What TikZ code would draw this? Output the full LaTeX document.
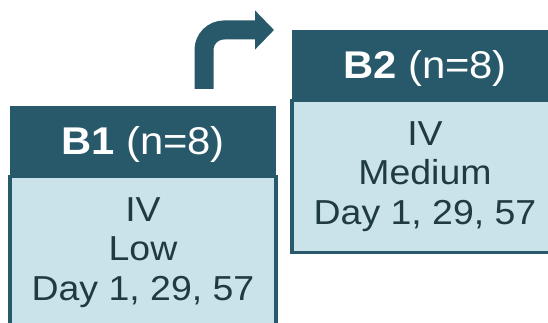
\documentclass[tikz,border=0pt]{standalone}
\usepackage{fontspec}
\setmainfont{Liberation Sans}[FakeStretch=1.08]
\usepackage{tikz}
\usetikzlibrary{arrows.meta,positioning}
\definecolor{tealdark}{HTML}{27596A}
\definecolor{tealpale}{HTML}{CAE3EA}
\definecolor{inkdark}{HTML}{1F3B42}

\begin{document}
\begin{tikzpicture}[x=0.75pt,y=-0.75pt,
  head/.style={fill=tealdark, text=white, inner sep=0pt,
    minimum width=199.5pt, minimum height=51.75pt,
    text height=21pt, text depth=0pt,
    font=\fontsize{29}{33}\selectfont},
  body/.style={fill=tealpale, draw=tealdark, line width=2.4pt, text=inkdark,
    inner sep=0pt, minimum width=199.5pt, minimum height=114pt,
    align=center, anchor=north,
    font=\fontsize{26}{29.5}\selectfont}]
 \useasboundingbox (0,0) rectangle (548,323);
 \clip (0,0) rectangle (548,323);
 % group B1, low dose
 \node[body] (b1body) at (143,175) {IV\\Low\\Day 1, 29, 57};
 \node[head, above=0pt of b1body.north] (b1head) {\textbf{B1} (n=8)};
 % group B2, medium dose
 \node[body] (b2body) at (425,99) {IV\\Medium\\Day 1, 29, 57};
 \node[head, above=0pt of b2body.north] (b2head) {\textbf{B2} (n=8)};
 % escalation arrow
 \coordinate (rise) at (204,89);
 \coordinate (step) at (274,30);
 \draw[tealdark, line width=14.25pt, rounded corners=15pt,
   -{Triangle[width=28.5pt, length=14.25pt]}] (rise) |- (step);
\end{tikzpicture}
\end{document}
